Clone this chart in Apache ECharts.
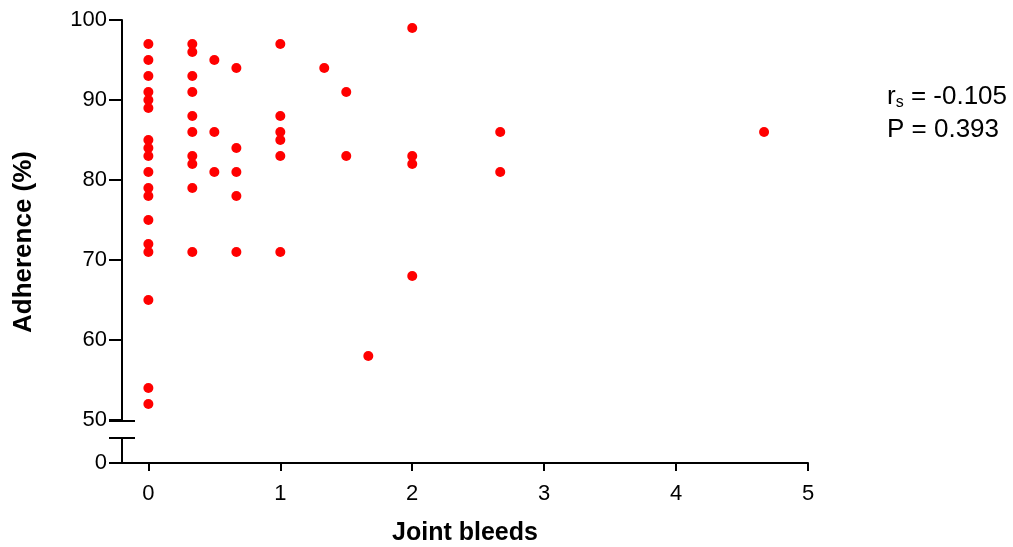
<!DOCTYPE html>
<html>
<head>
<meta charset="utf-8">
<script src="https://cdn.jsdelivr.net/npm/echarts@6/dist/echarts.min.js"></script>
<style>
  html, body { margin: 0; padding: 0; background: #fff; }
  #main { width: 1013px; height: 547px; }
</style>
</head>
<body>
<div id="main"></div>
<script>
// joint bleeds per year (x) and adherence % (y), one entry per patient
const bleeds = [
  0, 0, 0, 0, 0, 0, 0, 0, 0, 0, 0, 0, 0, 0, 0, 0, 0, 0,
  0.333, 0.333, 0.333, 0.333, 0.333, 0.333, 0.333, 0.333, 0.333, 0.333,
  0.5, 0.5, 0.5,
  0.667, 0.667, 0.667, 0.667, 0.667,
  1, 1, 1, 1, 1, 1,
  1.333,
  1.5, 1.5,
  1.667,
  2, 2, 2, 2,
  2.667, 2.667,
  4.667
];
const adherence = [
  97, 95, 93, 91, 90, 89, 85, 84, 83, 81, 79, 78, 75, 72, 71, 65, 54, 52,
  97, 96, 93, 91, 88, 86, 83, 82, 79, 71,
  95, 86, 81,
  94, 84, 81, 78, 71,
  97, 88, 86, 85, 83, 71,
  94,
  91, 83,
  58,
  99, 83, 82, 68,
  86, 81,
  86
];
const xTicks = [0, 1, 2, 3, 4, 5];
const statLines = ['-0.105', '0.393'];

const points = bleeds.map((b, i) => [b, adherence[i]]);

const font = 'Liberation Sans, Arial, sans-serif';
const axisLine = { show: true, onZero: false, lineStyle: { color: '#000', width: 2 } };
const labelStyle = { color: '#000', fontSize: 22, fontFamily: font };

const chart = echarts.init(document.getElementById('main'));
chart.setOption({
  animation: false,
  grid: [
    { left: 122, top: 20, width: 686, height: 400 },
    { left: 122, top: 438, width: 686, height: 25 }
  ],
  xAxis: [
    { gridIndex: 0, type: 'value', min: -0.2, max: 5, show: false },
    {
      gridIndex: 1, type: 'value', min: -0.2, max: 5,
      axisLine: axisLine,
      axisTick: { show: true, length: 8, lineStyle: { color: '#000', width: 2 }, customValues: xTicks },
      axisLabel: Object.assign({ customValues: xTicks, margin: 20 }, labelStyle),
      splitLine: { show: false },
      name: 'Joint bleeds',
      nameLocation: 'middle',
      nameGap: 58,
      nameTextStyle: { color: '#000', fontSize: 25, fontWeight: 'bold', fontFamily: font }
    }
  ],
  yAxis: [
    {
      gridIndex: 0, type: 'value', min: 50, max: 100, interval: 10,
      axisLine: axisLine,
      axisTick: { show: true, length: 13, lineStyle: { color: '#000', width: 2 } },
      axisLabel: Object.assign({ margin: 15 }, labelStyle),
      splitLine: { show: false }
    },
    {
      gridIndex: 1, type: 'value', min: 0, max: 5,
      axisLine: axisLine,
      axisTick: { show: true, length: 13, lineStyle: { color: '#000', width: 2 }, customValues: [0] },
      axisLabel: Object.assign({ customValues: [0], margin: 15 }, labelStyle),
      splitLine: { show: false }
    }
  ],
  series: [{
    type: 'scatter',
    xAxisIndex: 0,
    yAxisIndex: 0,
    data: points,
    symbol: 'circle',
    symbolSize: 10,
    itemStyle: { color: '#ff0000', opacity: 1 }
  }],
  graphic: [
    // axis break marks
    { type: 'line', shape: { x1: 109, y1: 421, x2: 135, y2: 421 }, style: { stroke: '#000', lineWidth: 2 } },
    { type: 'line', shape: { x1: 109, y1: 438, x2: 135, y2: 438 }, style: { stroke: '#000', lineWidth: 2 } },
    {
      type: 'text', x: 24, y: 242, rotation: Math.PI / 2,
      style: {
        text: 'Adherence (%)', fill: '#000', font: 'bold 26px ' + font,
        align: 'center', verticalAlign: 'middle'
      }
    },
    {
      type: 'text', x: 887, y: 97,
      style: {
        text: '{n|r}{s|s}{n| = ' + statLines[0] + '}',
        verticalAlign: 'middle',
        rich: {
          n: { fontSize: 26, fontFamily: font, fill: '#000' },
          s: { fontSize: 16, fontFamily: font, fill: '#000', padding: [12, 0, 0, 0] }
        }
      }
    },
    {
      type: 'text', x: 887, y: 130,
      style: { text: 'P = ' + statLines[1], fill: '#000', font: '26px ' + font, verticalAlign: 'middle' }
    }
  ]
});
</script>
</body>
</html>
